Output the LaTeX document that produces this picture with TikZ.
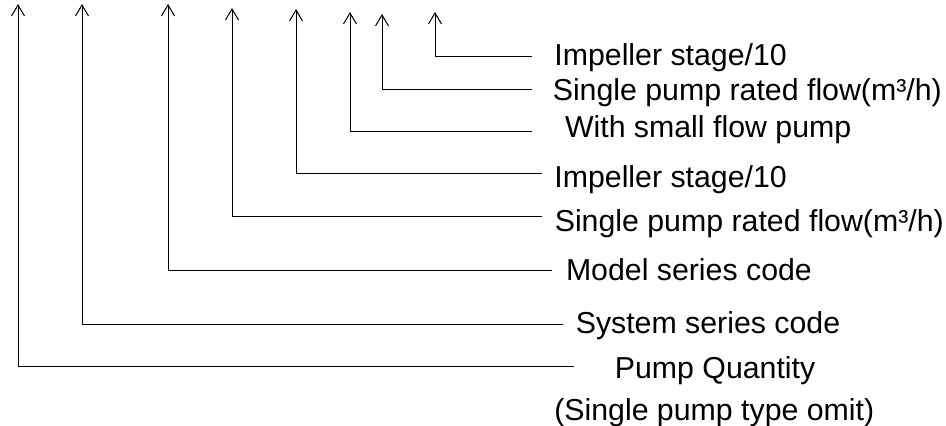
\documentclass[tikz,border=0pt]{standalone}
\usepackage{fontspec}
\setmainfont{Liberation Sans}
\usetikzlibrary{arrows.meta}
\begin{document}
\begin{tikzpicture}[x=1pt,y=-1pt,
  lbl/.style={anchor=base west,inner sep=0pt,font=\fontsize{30.3}{35}\selectfont},
  conn/.style={line width=1pt,-{Straight Barb[length=11pt,width=13pt,line width=1pt]}}]
\useasboundingbox (0,0) rectangle (946,426);
% arrow tips
\coordinate (t1) at (18,4);
\coordinate (t2) at (82,4);
\coordinate (t3) at (168,4);
\coordinate (t4) at (232,8);
\coordinate (t5) at (296,9);
\coordinate (t6) at (350,12);
\coordinate (t7) at (382,14);
\coordinate (t8) at (435,12);
% free ends of the leaders
\coordinate (e8) at (532,56);
\coordinate (e7) at (532,89);
\coordinate (e6) at (532,131);
\coordinate (e5) at (542,173);
\coordinate (e4) at (542,216);
\coordinate (e3) at (552,270);
\coordinate (e2) at (563,324);
\coordinate (e1) at (574,366);
% labels
\node[lbl] (l8) at (554.2,65) {Impeller stage/10};
\node[lbl] (l7) at (552.6,100) {Single pump rated flow(m³/h)};
\node[lbl] (l6) at (564.8,137) {With small flow pump};
\node[lbl] (l5) at (554.2,187) {Impeller stage/10};
\node[lbl] (l4) at (554.6,231) {Single pump rated flow(m³/h)};
\node[lbl] (l3) at (565.8,280) {Model series code};
\node[lbl] (l2) at (575.6,333) {System series code};
\node[lbl] (l1a) at (614.7,378) {Pump Quantity};
\node[lbl] (l1b) at (554.1,420) {(Single pump type omit)};
% leaders
\foreach \i in {1,...,8} {\draw[conn] (e\i) -| (t\i);}
\end{tikzpicture}
\end{document}
